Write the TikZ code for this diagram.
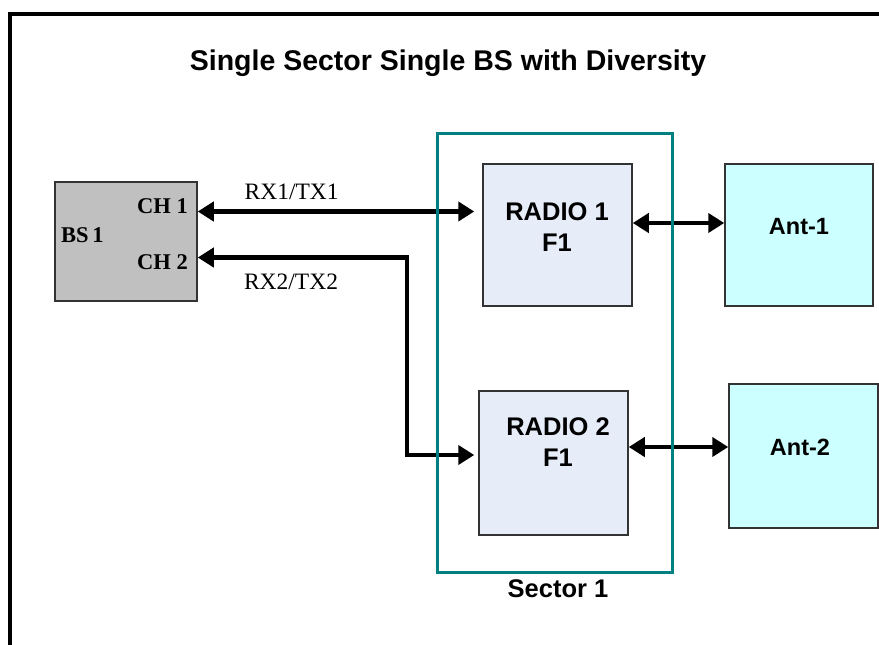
\documentclass[tikz,border=0pt]{standalone}
\usepackage{fontspec}
\setmainfont{Liberation Serif}
\setsansfont{Liberation Sans}
\usetikzlibrary{arrows.meta}

\definecolor{bsgray}{HTML}{C0C0C0}
\definecolor{radiofill}{HTML}{E6ECF8}
\definecolor{antfill}{HTML}{CCFFFF}
\definecolor{sectorteal}{HTML}{008080}

\begin{document}
\begin{tikzpicture}[x=1pt,y=-1pt]
\tikzset{link/.style = {<->, line width=4.5pt, >={Triangle[length=16pt,width=19pt]}}}
\tikzset{box/.style = {draw=black!80, line width=1.5pt, inner sep=0pt}}
\tikzset{sanslbl/.style = {font=\sffamily\bfseries\fontsize{25.5}{31}\selectfont, align=center, inner sep=0pt}}
\tikzset{seriflbl/.style = {font=\rmfamily\fontsize{23.5}{28}\selectfont, inner sep=0pt}}

\useasboundingbox (0,0) rectangle (879,645);
\draw[line width=4pt] (10,645) |- (879,14);

\node[font=\sffamily\bfseries\fontsize{28.5}{34}\selectfont] (title) at (448,63) {Single Sector Single BS with Diversity};

\node[box, fill=bsgray, minimum width=142pt, minimum height=119pt] (bs) at (126,241.5) {};
\node[box, fill=radiofill, minimum width=149pt, minimum height=142pt] (radio1) at (557.5,235) {};
\node[box, fill=radiofill, minimum width=149pt, minimum height=144pt] (radio2) at (553.5,463) {};
\node[box, fill=antfill, minimum width=148pt, minimum height=142pt] (ant1) at (799,235) {};
\node[box, fill=antfill, minimum width=149pt, minimum height=144pt] (ant2) at (803.5,456) {};

\node[seriflbl, font=\rmfamily\bfseries\fontsize{22.5}{26}\selectfont, anchor=west] (bslbl) at (61,235) {BS\,1};
\node[seriflbl, font=\rmfamily\bfseries\fontsize{22.5}{26}\selectfont, anchor=east] (ch1) at (188,206) {CH 1};
\node[seriflbl, font=\rmfamily\bfseries\fontsize{22.5}{26}\selectfont, anchor=east] (ch2) at (188,262) {CH 2};

\node[sanslbl] (radio1lbl) at (557,227) {RADIO 1\\F1};
\node[sanslbl] (radio2lbl) at (558,442) {RADIO 2\\F1};
\node[sanslbl, font=\sffamily\bfseries\fontsize{23.5}{28}\selectfont] (ant1lbl) at (799,227) {Ant-1};
\node[sanslbl, font=\sffamily\bfseries\fontsize{23.5}{28}\selectfont] (ant2lbl) at (800,447) {Ant-2};

% links between BS and radios
\draw[link, shorten >=8pt] ([yshift=30pt]bs.east) -- ([yshift=30pt]bs.east -| radio1.west)
  node[seriflbl, pos=0.33, yshift=20pt] (rx1) {RX1/TX1};
\draw[link, shorten >=4pt] ([yshift=-16pt]bs.east) -- ++(209,0) |- ([yshift=8pt]radio2.west);
\node[seriflbl] (rx2) at (291,282) {RX2/TX2};

% radio to antenna
\draw[link] ([yshift=12pt]radio1.east) -- ([yshift=12pt]radio1.east -| ant1.west);
\draw[link] ([yshift=16pt]radio2.east) -- ([yshift=16pt]radio2.east -| ant2.west);

\node[draw=sectorteal, line width=3pt, minimum width=235pt, minimum height=439pt] (sector) at (554.5,352.5) {};
\node[sanslbl] (sectorlbl) at (558,589) {Sector 1};
\end{tikzpicture}
\end{document}
